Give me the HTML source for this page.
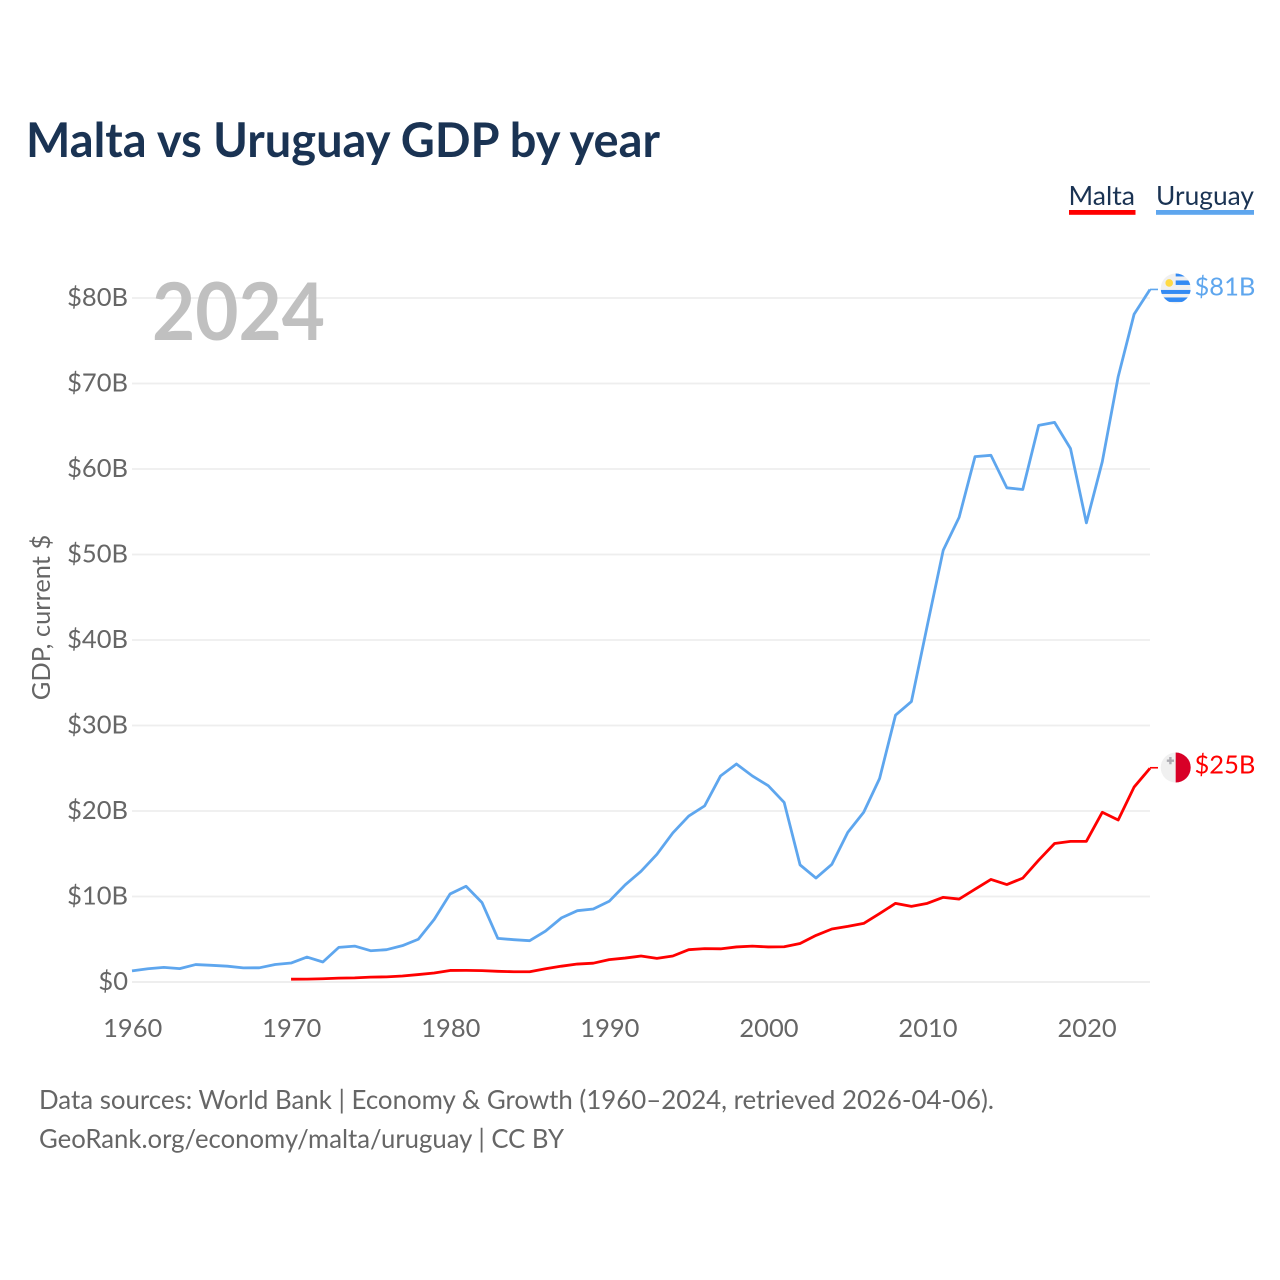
<!DOCTYPE html>
<html lang="en">
<head>
<meta charset="utf-8">
<title>Malta vs Uruguay GDP by year</title>
<style>
html,body{margin:0;padding:0;background:#fff;width:1280px;height:1280px;overflow:hidden}
svg{display:block}
text{font-family:"Lato","Carlito","Liberation Sans",sans-serif}
</style>
</head>
<body>
<svg id="chart" width="1280" height="1280" viewBox="0 0 1280 1280" xmlns="http://www.w3.org/2000/svg">
  <text x="26" y="157" font-size="48" font-weight="700" fill="#1a3353" textLength="634" lengthAdjust="spacingAndGlyphs">Malta vs Uruguay GDP by year</text>
  <g id="grid"></g>
  <text x="152" y="340" font-size="80" font-weight="700" fill="#c0c0c0" textLength="173" lengthAdjust="spacingAndGlyphs">2024</text>
  <g id="yticks"></g>
  <g id="xticks"></g>
  <text transform="translate(50,617.5) rotate(-90)" text-anchor="middle" font-size="25.5" fill="#666666" textLength="165.5" lengthAdjust="spacingAndGlyphs">GDP, current $</text>
  <g id="series"></g>
  <g>
    <g>
      <text x="1068.5" y="205" font-size="26" fill="#1a3353" textLength="66.5" lengthAdjust="spacingAndGlyphs">Malta</text>
      <rect x="1069" y="210" width="66.5" height="4.8" fill="#ff0000"></rect>
    </g>
    <g>
      <text x="1156" y="205" font-size="26" fill="#1a3353" textLength="98" lengthAdjust="spacingAndGlyphs">Uruguay</text>
      <rect x="1156" y="210" width="98" height="4.8" fill="#5ea6ee"></rect>
    </g>
  </g>
  <defs>
    <clipPath id="flag-clip-uy"><circle cx="0" cy="0" r="15"></circle></clipPath>
  </defs>
  <g id="flag-uruguay">
    <circle cx="0" cy="0" r="15" fill="#f0f0f0"></circle>
    <g clip-path="url(#flag-clip-uy)">
      <rect x="0" y="-15" width="15" height="3" fill="#338af3"></rect>
      <rect x="0" y="-8" width="15" height="4.5" fill="#338af3"></rect>
      <rect x="-15" y="1.5" width="30" height="4" fill="#338af3"></rect>
      <rect x="-15" y="9" width="30" height="4.5" fill="#338af3"></rect>
    </g>
    <circle cx="-6.5" cy="-5.5" r="3.8" fill="#ffda44"></circle>
  </g>
  <g id="flag-malta">
    <circle cx="0" cy="0" r="15" fill="#f0f0f0"></circle>
    <path d="M0,-15 A15,15 0 0 1 0,15 Z" fill="#d80027"></path>
    <path d="M-7,-11 h2.4 v2.4 h2.4 v2.4 h-2.4 v2.4 h-2.4 v-2.4 h-2.4 v-2.4 h2.4 Z" fill="#acabb1" transform="translate(0.5,0.5)"></path>
  </g>
  <g>
    <text x="39" y="1109" font-size="26" fill="#666666" textLength="955" lengthAdjust="spacingAndGlyphs">Data sources: World Bank | Economy &amp; Growth (1960–2024, retrieved 2026-04-06).</text>
    <text x="39" y="1148" font-size="26" fill="#666666" textLength="525" lengthAdjust="spacingAndGlyphs">GeoRank.org/economy/malta/uruguay | CC BY</text>
  </g>
</svg>
<script>
const years = [1960,1961,1962,1963,1964,1965,1966,1967,1968,1969,1970,1971,1972,1973,1974,1975,1976,1977,1978,1979,1980,1981,1982,1983,1984,1985,1986,1987,1988,1989,1990,1991,1992,1993,1994,1995,1996,1997,1998,1999,2000,2001,2002,2003,2004,2005,2006,2007,2008,2009,2010,2011,2012,2013,2014,2015,2016,2017,2018,2019,2020,2021,2022,2023,2024];
const uruguayValues = [1.3,1.55,1.71,1.56,2.04,1.95,1.85,1.65,1.66,2.05,2.22,2.92,2.34,4.05,4.2,3.66,3.78,4.25,5.0,7.33,10.3,11.2,9.3,5.1,4.95,4.83,5.96,7.5,8.34,8.54,9.44,11.35,12.95,14.93,17.43,19.41,20.6,24.1,25.5,24.1,22.96,21.0,13.7,12.16,13.77,17.5,19.85,23.8,31.2,32.8,41.7,50.5,54.35,61.45,61.6,57.8,57.6,65.1,65.45,62.4,53.7,60.85,70.8,78.1,81];
const maltaValues = [null,null,null,null,null,null,null,null,null,null,0.33,0.34,0.38,0.45,0.48,0.57,0.6,0.7,0.87,1.05,1.35,1.36,1.33,1.25,1.2,1.2,1.55,1.85,2.1,2.2,2.62,2.8,3.04,2.76,3.04,3.78,3.9,3.88,4.1,4.2,4.1,4.12,4.5,5.45,6.2,6.5,6.85,8.0,9.2,8.85,9.2,9.9,9.7,10.85,12.0,11.4,12.15,14.25,16.2,16.45,16.45,19.85,18.95,22.8,25];
const yTickValues = [0,10,20,30,40,50,60,70,80];
const yTickLabels = ["$0","$10B","$20B","$30B","$40B","$50B","$60B","$70B","$80B"];
const xTickValues = [1960,1970,1980,1990,2000,2010,2020];
const endLabels = ["$25B","$81B"];

const NS = "http://www.w3.org/2000/svg";
function xScale(year){ return 132 + (year - 1960) * (1150 - 132) / 64; }
function yScale(value){ return 982 - value * (982 - 298) / 80; }
function make(tag, parent, attrs){
  const el = document.createElementNS(NS, tag);
  for (const k in attrs) el.setAttribute(k, attrs[k]);
  parent.appendChild(el);
  return el;
}

const gridGroup = document.getElementById("grid");
const yGroup = document.getElementById("yticks");
yTickValues.forEach(function(v, i){
  const line = make("line", gridGroup, {x1:132, x2:1150, y1:yScale(v), y2:yScale(v), stroke:"#eeeeee", "stroke-width":v === 0 ? 2 : 1.8});
  
  
  const t = make("text", yGroup, {x:128, y:yScale(v) + 8, "text-anchor":"end", "font-size":25.5, fill:"#666666"});
  
  
  t.textContent = yTickLabels[i];
});

const xGroup = document.getElementById("xticks");
xTickValues.forEach(function(y){
  const t = make("text", xGroup, {x:xScale(y) + 0.7, y:1037, "text-anchor":"middle", "font-size":25.5, fill:"#666666"});
  
  
  t.textContent = String(y);
});

function linePoints(values){
  const pts = [];
  values.forEach(function(v, i){
    if (v !== null) pts.push(xScale(years[i]).toFixed(2) + "," + yScale(v).toFixed(2));
  });
  return pts.join(" ");
}
const seriesGroup = document.getElementById("series");
const lineAttrs = {fill:"none", "stroke-width":2.8, "stroke-linejoin":"round"};

const uruguayLine = make("polyline", seriesGroup, Object.assign({points:linePoints(uruguayValues), stroke:"#5ea6ee"}, lineAttrs));



const maltaLine = make("polyline", seriesGroup, Object.assign({points:linePoints(maltaValues), stroke:"#ff0000"}, lineAttrs));



const lastYear = years[years.length - 1];
const uyEnd = yScale(uruguayValues[uruguayValues.length - 1]);
const mtEnd = yScale(maltaValues[maltaValues.length - 1]);

const uyLeader = make("line", seriesGroup, {x1:xScale(lastYear), x2:xScale(lastYear) + 8, y1:uyEnd, y2:uyEnd, stroke:"#5ea6ee", "stroke-width":1.6});


const mtLeader = make("line", seriesGroup, {x1:xScale(lastYear), x2:xScale(lastYear) + 8, y1:mtEnd - 0.5, y2:mtEnd - 0.5, stroke:"#ff0000", "stroke-width":1.6});



document.getElementById("flag-uruguay").setAttribute("transform", "translate(1175.7," + (uyEnd - 1) + ")");
document.getElementById("flag-malta").setAttribute("transform", "translate(1175.7," + (mtEnd - 0.7) + ")");

const mtLabel = make("text", seriesGroup, {x:1194.5, y:mtEnd + 5, "font-size":25.5, fill:"#ff0000"});


mtLabel.textContent = endLabels[0];
const uyLabel = make("text", seriesGroup, {x:1194.5, y:uyEnd + 6, "font-size":25.5, fill:"#5ea6ee"});


uyLabel.textContent = endLabels[1];
</script>
</body>
</html>
